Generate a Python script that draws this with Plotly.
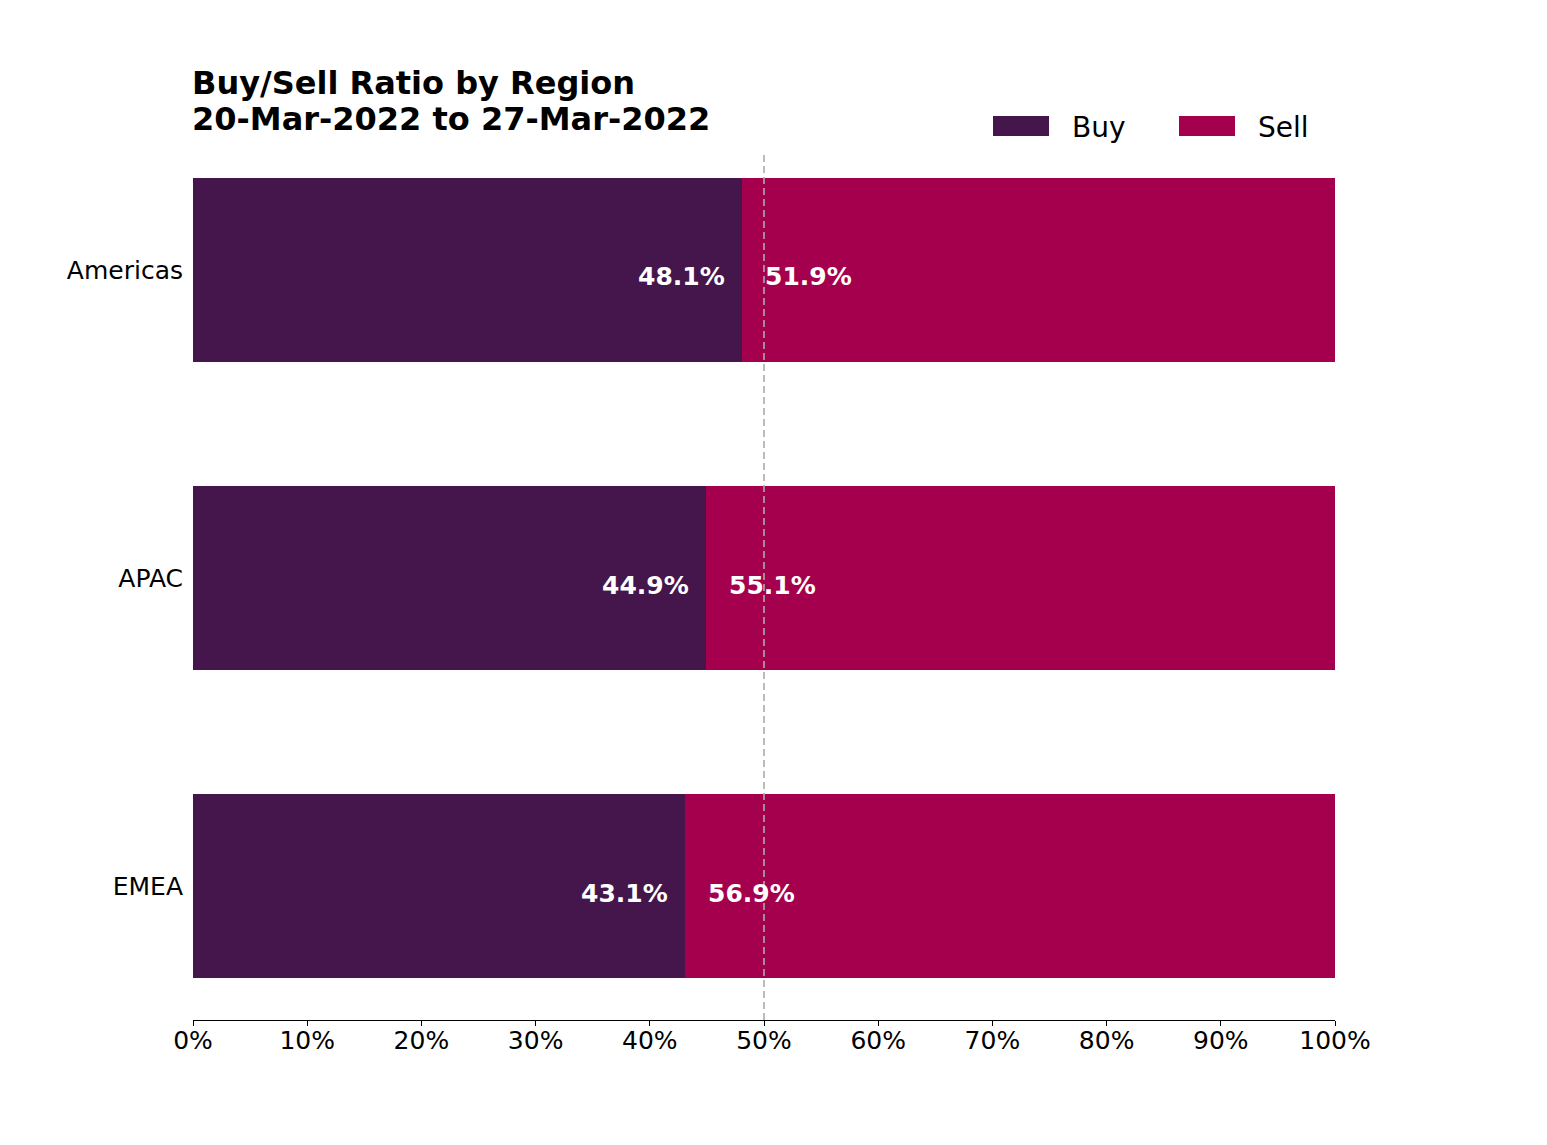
import plotly.graph_objects as go

regions = ["EMEA", "APAC", "Americas"]
buy_pct = [43.1, 44.9, 48.1]
sell_pct = [56.9, 55.1, 51.9]
series_names = ["Buy", "Sell"]
colors = ["#45164B", "#A5004D"]
x_ticks = list(range(0, 101, 10))
x_tick_labels = [f"{t}%" for t in x_ticks]
title_lines = ["Buy/Sell Ratio by Region", "20-Mar-2022 to 27-Mar-2022"]

FONT = "DejaVu Sans"
W, H = 1547, 1145
OFF = 8  # page offset of the rendered figure
# desired on-screen plot area: x 193..1335, y 136..1020
L, R, T, B = 193 - OFF, W - 1335 + OFF, 136 - OFF, H - 1020 + OFF

fig = go.Figure()
fig.add_trace(go.Bar(y=regions, x=buy_pct, orientation="h", name=series_names[0],
                     marker=dict(color=colors[0], line=dict(width=0)), width=0.6,
                     showlegend=False, hoverinfo="x+y"))
fig.add_trace(go.Bar(y=regions, x=sell_pct, orientation="h", name=series_names[1],
                     marker=dict(color=colors[1], line=dict(width=0)), width=0.6,
                     showlegend=False, hoverinfo="x+y"))

annotations = []
for r, b, s in zip(regions, buy_pct, sell_pct):
    annotations.append(dict(x=b, y=r, xref="x", yref="y", text=f"<b>{b:.1f}%</b>",
                            showarrow=False, xanchor="right", xshift=-15, yshift=-7,
                            font=dict(family=FONT, size=25, color="white")))
    annotations.append(dict(x=b, y=r, xref="x", yref="y", text=f"<b>{s:.1f}%</b>",
                            showarrow=False, xanchor="left", xshift=21, yshift=-7,
                            font=dict(family=FONT, size=25, color="white")))

pw = W - L - R
ph = H - T - B
def px_x(px):  # on-screen px -> paper x
    return (px - OFF - L) / pw
def px_y(py):  # on-screen px -> paper y
    return (H - B - (py - OFF)) / ph

# title (two lines)
annotations.append(dict(x=px_x(190), y=px_y(83), xref="paper", yref="paper",
                        text=f"<b>{title_lines[0]}</b>", showarrow=False,
                        xanchor="left", yanchor="middle",
                        font=dict(family=FONT, size=32, color="black")))
annotations.append(dict(x=px_x(190), y=px_y(119), xref="paper", yref="paper",
                        text=f"<b>{title_lines[1]}</b>", showarrow=False,
                        xanchor="left", yanchor="middle",
                        font=dict(family=FONT, size=32, color="black")))

# manual legend
shapes = []
legend_items = [(993, 1070), (1179, 1256)]
for (sx, tx), name, col in zip(legend_items, series_names, colors):
    shapes.append(dict(type="rect", xref="paper", yref="paper",
                       x0=px_x(sx), x1=px_x(sx + 56),
                       y0=px_y(136), y1=px_y(116),
                       fillcolor=col, line=dict(width=0), layer="above"))
    annotations.append(dict(x=px_x(tx), y=px_y(127), xref="paper", yref="paper",
                            text=name, showarrow=False, xanchor="left", yanchor="middle",
                            font=dict(family=FONT, size=28, color="black")))

# 50% reference line
shapes.append(dict(type="line", xref="x", yref="paper", x0=50, x1=50,
                   y0=0, y1=px_y(155),
                   line=dict(color="rgba(170,170,170,0.8)", width=2, dash="7px,4px"),
                   layer="above"))

fig.update_layout(
    width=W, height=H,
    margin=dict(l=L, r=R, t=T, b=B),
    paper_bgcolor="white", plot_bgcolor="white",
    barmode="stack",
    xaxis=dict(range=[0, 100], tickvals=x_ticks, ticktext=x_tick_labels,
               showgrid=False, zeroline=False, showline=True, linecolor="black",
               linewidth=1.2, ticks="outside", ticklen=5, tickcolor="black",
               ticklabelstandoff=-7,
               tickfont=dict(family=FONT, size=25, color="black")),
    yaxis=dict(range=[-0.435, 2.435], showgrid=False, zeroline=False,
               showline=False, ticks="", ticklabelstandoff=9,
               tickfont=dict(family=FONT, size=25, color="black")),
    annotations=annotations, shapes=shapes,
    showlegend=False,
)

fig.write_html("out.html")
